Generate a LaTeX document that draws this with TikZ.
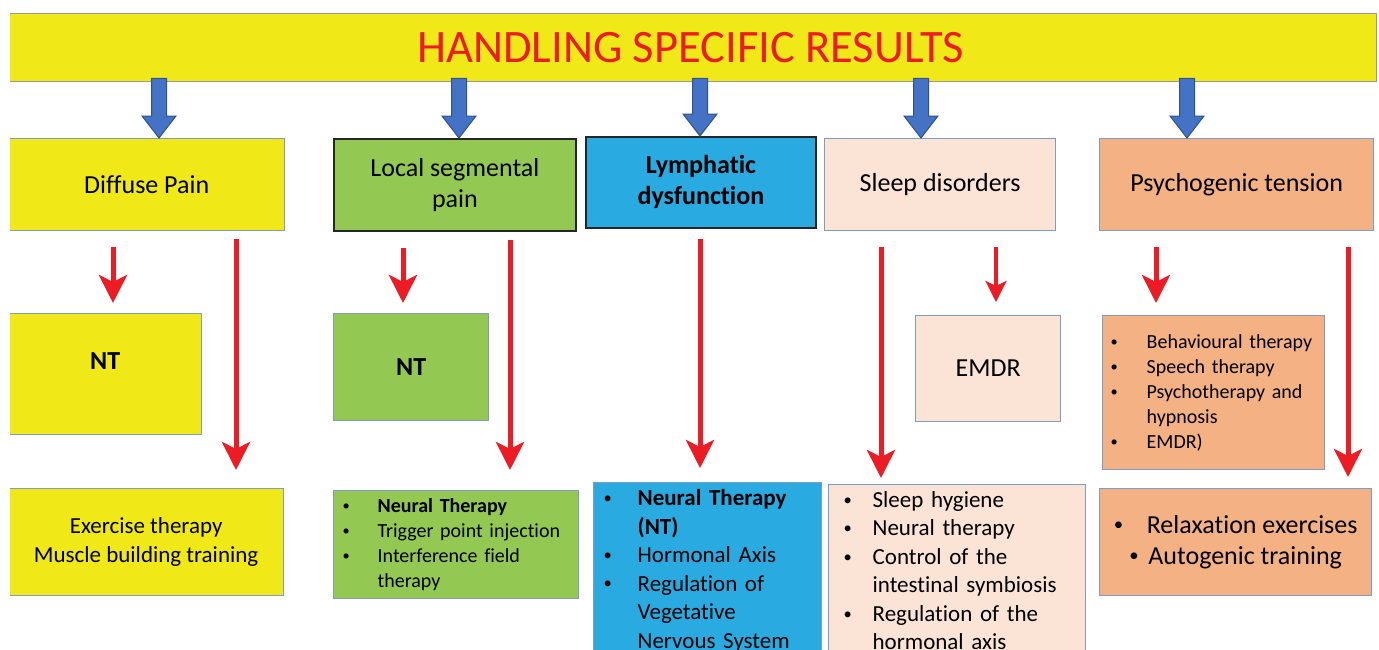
\documentclass[tikz,border=0pt]{standalone}
\usepackage{fontspec}
\usepackage{graphicx}
\setmainfont{Carlito}[Ligatures=NoCommon]
\usetikzlibrary{arrows.meta,calc}
\definecolor{ttlyellow}{HTML}{F1E917}
\definecolor{grn}{HTML}{93C952}
\definecolor{cyanb}{HTML}{29ABE2}
\definecolor{peach}{HTML}{FBE3D6}
\definecolor{orng}{HTML}{F4B183}
\definecolor{bordc}{HTML}{7F9CC7}
\definecolor{redc}{HTML}{ED1C24}
\definecolor{blk}{HTML}{4472C4}
\definecolor{blkd}{HTML}{2F528F}
\newcommand\bul{\raisebox{0.1em}{\scalebox{0.72}{\textbullet}}}
\newcommand\itm[2]{\makebox[#1][l]{\bul}#2}
\newcommand\cnt[2]{\hspace*{#1}#2}
\newcommand\blkarrow[2]{%
  \draw[blockarr] ($(#1)+(-7.5,-4)$) -- ($(#2)+(-7.5,-22)$) -- ($(#2)+(-17,-22)$) -- (#2)
    -- ($(#2)+(17,-22)$) -- ($(#2)+(7.5,-22)$) -- ($(#1)+(7.5,-4)$) -- cycle;}
\begin{document}
\begin{tikzpicture}[x=1pt,y=-1pt,
  box/.style={draw=bordc,line width=1.3pt,anchor=north west,inner sep=0pt,align=center,text=black},
  dbox/.style={box,draw=black!85,line width=1.8pt},
  fbig/.style={font=\fontsize{26}{31}\selectfont},
  fbigb/.style={font=\fontsize{26}{31}\selectfont\bfseries},
  fmid/.style={font=\fontsize{23}{28.5}\selectfont},
  fsml/.style={font=\fontsize{20}{25}\selectfont},
  redarr/.style={draw=redc,line width=5pt,-{Stealth[length=28pt,width=28pt,inset=7pt]}},
  redthin/.style={draw=redc,line width=3.5pt,-{Stealth[length=21pt,width=21pt,inset=5pt]}},
  blockarr/.style={fill=blk,draw=blkd,line width=1pt,line join=miter}
]
\useasboundingbox[fill=white] (0,0) rectangle (1379,649);
\begin{scope}
\clip (10,0) rectangle (1379,649);
% title
\node[box,draw=gray!80,fill=ttlyellow,minimum width=1372,minimum height=68,
  font=\fontsize{46.5}{50}\selectfont,text=redc] (title) at (4,13) {HANDLING SPECIFIC RESULTS};
% row 1
\node[box,fill=ttlyellow,minimum width=276,minimum height=92,fbig] (dp) at (8,138) {Diffuse Pain};
\node[dbox,fill=grn,minimum width=242,minimum height=92,fbig] (lsp) at (333,138) {Local segmental\\pain};
\node[dbox,fill=cyanb,minimum width=230,minimum height=91,fbigb] (lym) at (585,136) {Lymphatic\\dysfunction};
\node[box,fill=peach,minimum width=231,minimum height=92,fbig] (sd) at (824,138) {Sleep disorders};
\node[box,fill=orng,minimum width=274,minimum height=92,fbig] (pt) at (1099,138) {Psychogenic tension};
% row 2
\node[box,fill=ttlyellow,minimum width=193,minimum height=121,fbigb,
  text height=18pt,text depth=27pt] (nt1) at (8,313) {NT};
\node[box,fill=grn,minimum width=155,minimum height=107,fbigb] (nt2) at (333,313) {NT};
\node[box,fill=peach,minimum width=145,minimum height=106,fbig] (emdr) at (915,315) {EMDR};
\node[box,fill=orng,minimum width=222,minimum height=154,fsml,align=left,text width=206] (pl) at (1102,315)
  {\itm{36pt}{Behavioural therapy}\\
   \itm{36pt}{Speech therapy}\\
   \itm{36pt}{Psychotherapy and}\\
   \cnt{36pt}{hypnosis}\\
   \itm{36pt}{EMDR)}};
% row 3
\node[box,fill=ttlyellow,minimum width=275,minimum height=107,fmid] (ex) at (8,488)
  {Exercise therapy\\Muscle building training};
\node[box,fill=grn,minimum width=245,minimum height=108,fsml,align=left,text width=227] (nl) at (333,490)
  {\itm{35pt}{\textbf{Neural Therapy}}\\
   \itm{35pt}{Trigger point injection}\\
   \itm{35pt}{Interference field}\\
   \cnt{35pt}{therapy}};
\node[box,fill=cyanb,minimum width=228,minimum height=176,fmid,align=left,text width=208] (ll) at (593,482)
  {\itm{34pt}{\textbf{Neural Therapy}}\\
   \cnt{34pt}{\textbf{(NT)}}\\
   \itm{34pt}{Hormonal Axis}\\
   \itm{34pt}{Regulation of}\\
   \cnt{34pt}{Vegetative}\\
   \cnt{34pt}{Nervous System}};
\node[box,fill=peach,minimum width=257,minimum height=172,fmid,align=left,text width=227] (sl) at (828,484)
  {\itm{29pt}{Sleep hygiene}\\
   \itm{29pt}{Neural therapy}\\
   \itm{29pt}{Control of the}\\
   \cnt{29pt}{intestinal symbiosis}\\
   \itm{29pt}{Regulation of the}\\
   \cnt{29pt}{hormonal axis}};
\node[box,fill=orng,minimum width=272,minimum height=107,fbig] (pr) at (1099,488)
  {\itm{33pt}{Relaxation exercises}\\
   \itm{19pt}{Autogenic training}};
% blue block arrows
\coordinate (a1t) at (title.south -| 159,0); \coordinate (a1b) at (dp.north -| 159,0);
\coordinate (a2t) at (title.south -| 459,0); \coordinate (a2b) at (lsp.north -| 459,0);
\coordinate (a3t) at (title.south -| 700,0); \coordinate (a3b) at (lym.north -| 700,0);
\coordinate (a4t) at (title.south -| 921,0); \coordinate (a4b) at (sd.north -| 921,0);
\coordinate (a5t) at (title.south -| 1187,0); \coordinate (a5b) at (pt.north -| 1187,0);
\blkarrow{a1t}{a1b}
\blkarrow{a2t}{a2b}
\blkarrow{a3t}{a3b}
\blkarrow{a4t}{a4b}
\blkarrow{a5t}{a5b}
% red arrows
\draw[redarr,shorten <=16pt,shorten >=10pt] (dp.south -| 113,0) -- (nt1.north -| 113,0);
\draw[redarr,shorten <=8pt,shorten >=18pt] (dp.south -| 236,0) -- (ex.north -| 236,0);
\draw[redarr,shorten <=16pt,shorten >=10pt] (lsp.south -| 403,0) -- (nt2.north -| 403,0);
\draw[redarr,shorten <=8pt,shorten >=20pt] (lsp.south -| 510,0) -- (nl.north -| 510,0);
\draw[redarr,shorten <=10pt,shorten >=14pt] (lym.south -| 700,0) -- (ll.north -| 700,0);
\draw[redarr,shorten <=16pt,shorten >=6pt] (sd.south -| 881,0) -- (sl.north -| 881,0);
\draw[redthin,shorten <=16pt,shorten >=13pt] (sd.south -| 996,0) -- (emdr.north -| 996,0);
\draw[redarr,shorten <=16pt,shorten >=12pt] (pt.south -| 1156,0) -- (pl.north -| 1156,0);
\draw[redarr,shorten <=16pt,shorten >=11pt] (pt.south -| 1348,0) -- (pr.north -| 1348,0);
\end{scope}
\end{tikzpicture}
\end{document}
